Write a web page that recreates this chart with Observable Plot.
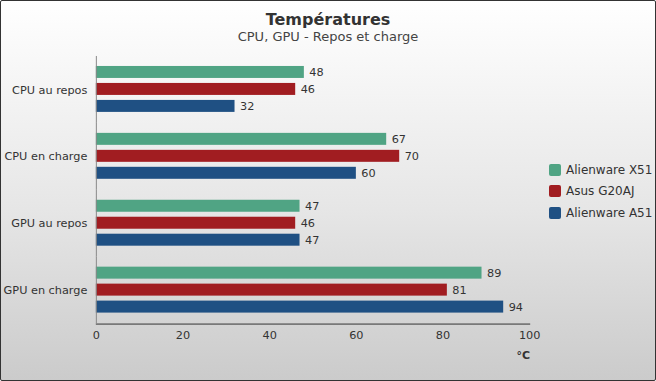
<!DOCTYPE html>
<html>
<head>
<meta charset="utf-8">
<script src="https://cdn.jsdelivr.net/npm/d3@7"></script>
<script src="https://cdn.jsdelivr.net/npm/@observablehq/plot@0.6"></script>
<style>
  html, body { margin: 0; padding: 0; background: #fff; }
  #chart {
    position: relative; width: 656px; height: 381px; box-sizing: border-box;
    border: 1px solid #333; border-radius: 2px; overflow: hidden;
    background: linear-gradient(to bottom, #ffffff 0%, #e6e6e6 55%, #cbcbcb 100%);
    font-family: "DejaVu Sans", sans-serif; color: #333;
  }
  #title { position: absolute; left: -1px; width: 656px; top: 9px; text-align: center; font-weight: bold; font-size: 16px; line-height: 19px; color: #333; }
  #subtitle { position: absolute; left: -1px; width: 656px; top: 28px; text-align: center; font-size: 13px; line-height: 16px; color: #444; }
  #plot { position: absolute; left: -1px; top: 43px; }
  #xlabel { position: absolute; left: 429px; width: 100px; text-align: right; top: 348px; font-size: 11px; font-weight: bold; color: #333; line-height: 14px; }
  #legend { position: absolute; left: 548px; top: 158px; font-size: 12px; color: #333; }
  .item { display: flex; align-items: center; height: 21.6px; }
  .sw { width: 12px; height: 12px; border-radius: 2px; margin-right: 5px; }
</style>
</head>
<body>
<div id="chart">
  <div id="title"></div>
  <div id="subtitle"></div>
  <div id="plot"></div>
  <div id="xlabel"></div>
  <div id="legend"></div>
</div>
<script>
const title = "Températures";
const subtitle = "CPU, GPU - Repos et charge";
const categories = ["CPU au repos", "CPU en charge", "GPU au repos", "GPU en charge"];
const series = ["Alienware X51", "Asus G20AJ", "Alienware A51"];
const alienwareX51 = [48, 67, 47, 89];
const asusG20AJ = [46, 70, 46, 81];
const alienwareA51 = [32, 60, 47, 94];
const xTicks = [0, 20, 40, 60, 80, 100];
const xLabel = "°C";
const colors = ["#50a484", "#a11d21", "#1f5083"];

const seriesValues = [alienwareX51, asusG20AJ, alienwareA51];
const data = categories.flatMap((c, i) => series.map((s, j) => ({category: c, series: s, value: seriesValues[j][i]})));

document.getElementById("title").textContent = title;
document.getElementById("subtitle").textContent = subtitle;
document.getElementById("xlabel").textContent = xLabel;

const chart = Plot.plot({
  width: 656,
  height: 337,
  marginTop: 11,
  marginBottom: 56,
  marginLeft: 96,
  marginRight: 126,
  style: {fontFamily: "DejaVu Sans, sans-serif", fontSize: "11.3px", color: "#333", background: "transparent", overflow: "visible"},
  x: {domain: [0, 100], ticks: xTicks, label: null, tickSize: 0, tickPadding: 7, line: true},
  fy: {domain: categories, padding: 0, axis: "left", label: null, tickSize: 0, tickPadding: 9},
  y: {domain: series, axis: null, paddingInner: 0.27, paddingOuter: 0.52},
  color: {domain: series, range: colors},
  marks: [
    Plot.barX(data, {x: "value", y: "series", fy: "category", fill: "series"}),
    Plot.text(data, {x: "value", y: "series", fy: "category", text: d => d.value, textAnchor: "start", dx: 5, fill: "#333"}),
    Plot.ruleX([0], {stroke: "#888"})
  ]
});
document.getElementById("plot").appendChild(chart);

const color = chart.scale("color");
const legend = d3.select("#legend");
color.domain.forEach((s, i) => {
  const item = legend.append("div").attr("class", "item");
  item.append("div").attr("class", "sw").style("background", color.range[i]);
  item.append("span").text(s);
});
</script>
</body>
</html>
